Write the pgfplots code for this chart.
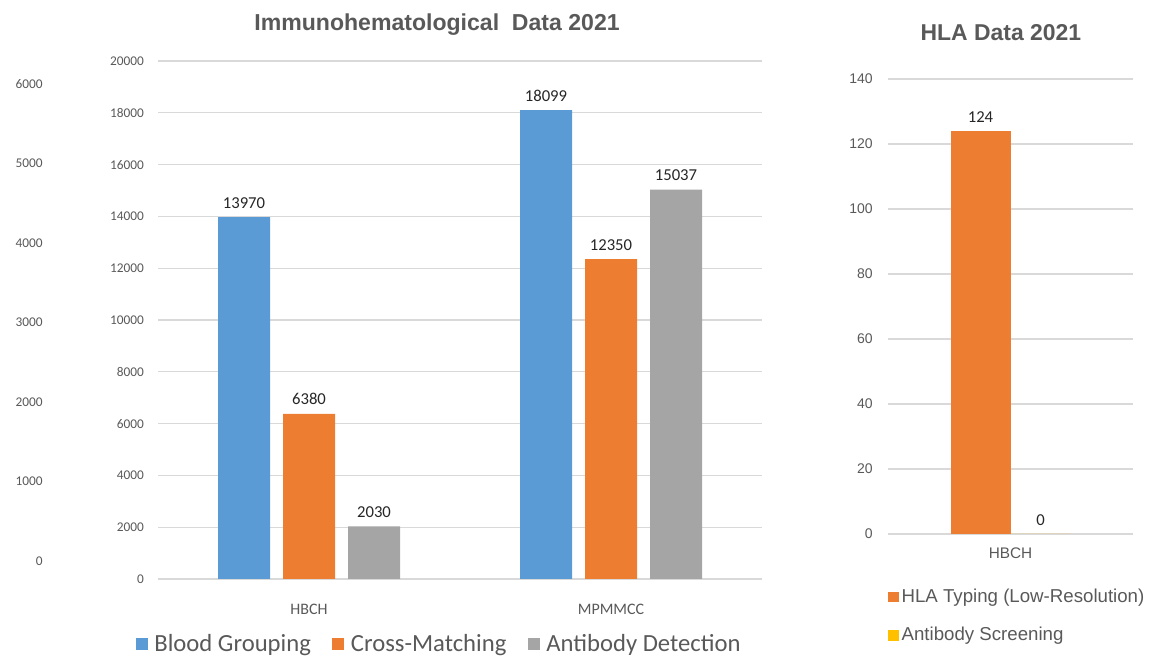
\documentclass[border=0pt]{standalone}
\usepackage{pgfplots}
\pgfplotsset{compat=1.18}
\usepackage{fontspec}
\setmainfont{Carlito}
\newfontfamily\arial{Liberation Sans}
\definecolor{cblue}{HTML}{5B9BD5}
\definecolor{corange}{HTML}{ED7D31}
\definecolor{cgray}{HTML}{A5A5A5}
\definecolor{cyellow}{HTML}{FFC000}
\definecolor{tgray}{HTML}{595959}
\definecolor{ggray}{HTML}{D9D9D9}

\pgfplotsset{
  excelbar/.style={
    scale only axis,
    axis line style={draw=none},
    tick style={draw=none},
    major tick length=0pt,
    ymajorgrids,
    grid style={ggray, line width=0.8pt},
    scaled y ticks=false,
    /pgf/number format/1000 sep={},
    /pgf/number format/assume math mode=true,
    tick label style={text=tgray},
  }
}

\begin{document}
\begin{tikzpicture}
\useasboundingbox (0,0) rectangle (865.5pt,494.25pt);

% stray scale on the far left
\begin{axis}[
  excelbar, ymajorgrids=false,
  at={(35.5pt,73.5pt)}, anchor=south west,
  width=1pt, height=357.75pt,
  xmin=0, xmax=1, ymin=0, ymax=6000,
  ytick={0,1000,...,6000},
  hide x axis,
  yticklabel style={font=\fontsize{10}{12}\selectfont},
]
\end{axis}

% immunohematological data
\begin{axis}[
  excelbar,
  at={(118.5pt,60pt)}, anchor=south west,
  width=453pt, height=388.5pt,
  ymin=0, ymax=20000, ytick={0,2000,...,20000},
  xmin=-0.5, xmax=1.5, xtick={0,1}, xticklabels={HBCH,MPMMCC},
  ybar=9.75pt, bar width=39pt,
  legend image code/.code={\fill[#1] (0pt,-4.5pt) rectangle (9pt,4.5pt);},
  yticklabel style={font=\fontsize{10}{12}\selectfont, xshift=-7pt},
  xticklabel style={font=\fontsize{12}{14}\selectfont, yshift=-15pt},
  nodes near coords,
  nodes near coords style={font=\fontsize{12.5}{14}\selectfont, text=black!85, yshift=3pt},
  title={\arial\bfseries Immunohematological\ \ Data 2021},
  title style={at={(0.462,1)}, anchor=base, yshift=17pt, text=tgray,
    font=\fontsize{17.3}{20}\selectfont},
  legend style={at={(0.466,-0.126)}, anchor=center, draw=none, fill=none,
    inner sep=0pt, legend columns=3, text=tgray,
    font=\fontsize{18.5}{20}\selectfont,
    /tikz/every even column/.append style={column sep=14pt},
    /tikz/every odd column/.append style={column sep=3pt}},
]
\addplot[fill=cblue, draw=none] coordinates {(0,13970) (1,18099)};
\addplot[fill=corange, draw=none] coordinates {(0,6380) (1,12350)};
\addplot[fill=cgray, draw=none] coordinates {(0,2030) (1,15037)};
\legend{Blood Grouping, Cross-Matching, Antibody Detection}
\end{axis}

% HLA data
\begin{axis}[
  excelbar,
  at={(666pt,93.75pt)}, anchor=south west,
  width=183.75pt, height=341.25pt,
  ymin=0, ymax=140, ytick={0,20,...,140},
  xmin=-0.5, xmax=0.5, xtick={0}, xticklabels={HBCH},
  ybar=0pt, bar width=45pt,
  legend image code/.code={\fill[#1] (0pt,-4pt) rectangle (8pt,4pt);},
  yticklabel style={font=\arial\fontsize{10.5}{12}\selectfont, xshift=-8pt},
  xticklabel style={font=\arial\fontsize{11.5}{14}\selectfont, yshift=-7pt},
  nodes near coords,
  nodes near coords style={font=\fontsize{12.5}{14}\selectfont, text=black!85, yshift=3pt},
  title={\arial\bfseries HLA Data 2021},
  title style={at={(0.461,1)}, anchor=base, yshift=23pt, text=tgray,
    font=\fontsize{17.2}{20}\selectfont},
  legend style={at={(0,-0.115)}, anchor=north west, draw=none, fill=none,
    inner sep=0pt, legend columns=1, legend cell align=left, text=tgray,
    font=\arial\fontsize{14}{16}\selectfont, row sep=13pt},
]
\addplot[fill=corange, draw=none] coordinates {(0,124)};
\addplot[fill=cyellow, draw=none] coordinates {(0,0)};
\legend{HLA Typing (Low-Resolution), Antibody Screening}
\end{axis}
\end{tikzpicture}
\end{document}
